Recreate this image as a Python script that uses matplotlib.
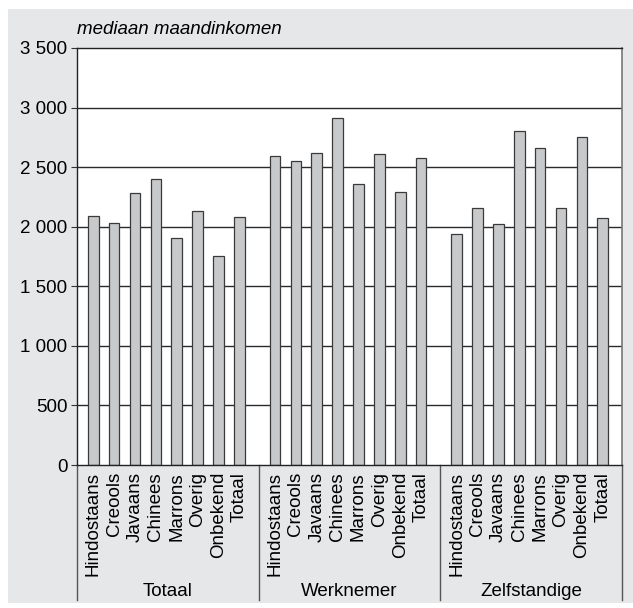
import matplotlib
matplotlib.use("Agg")
import matplotlib.pyplot as plt
from matplotlib.patches import Rectangle
from matplotlib.lines import Line2D
import matplotlib.transforms as mtransforms

plt.rcParams['font.family'] = ['Liberation Sans', 'DejaVu Sans']

categories = ["Hindostaans", "Creools", "Javaans", "Chinees", "Marrons", "Overig", "Onbekend", "Totaal"]
groups = ["Totaal", "Werknemer", "Zelfstandige"]
totaal = [2090, 2030, 2280, 2400, 1905, 2135, 1755, 2085]
werknemer = [2590, 2555, 2620, 2915, 2360, 2610, 2290, 2580]
zelfstandige = [1940, 2160, 2020, 2805, 2660, 2160, 2755, 2070]
series = [totaal, werknemer, zelfstandige]
yticks = [0, 500, 1000, 1500, 2000, 2500, 3000, 3500]
ytick_labels = ["0", "500", "1 000", "1 500", "2 000", "2 500", "3 000", "3 500"]
title = "mediaan maandinkomen"

W, H = 633, 608
fig = plt.figure(figsize=(W / 100, H / 100), dpi=100)
fig.patch.set_facecolor("white")
bg = "#e6e7e8"
fig.add_artist(Rectangle((8 / W, 1 - 603 / H), (633 - 8) / W, (603 - 9) / H,
                         transform=fig.transFigure, facecolor=bg, edgecolor="none", zorder=0))

left, right, top, bottom = 77, 622, 48, 465
ax = fig.add_axes([left / W, 1 - bottom / H, (right - left) / W, (bottom - top) / H])
ax.set_facecolor("white")

fs = 13.5
gw = 8.7
off = 0.78
xs, hs, labels = [], [], []
for g, vals in enumerate(series):
    for i, v in enumerate(vals):
        xs.append(g * gw + off + i)
        hs.append(v)
        labels.append(categories[i])

ax.set_axisbelow(True)
for y in yticks[1:-1]:
    ax.axhline(y, color="#2a2a2a", lw=1.0, zorder=1)
ax.bar(xs, hs, width=0.51, color="#c8c9cb", edgecolor="#3a3a3a", linewidth=0.9, zorder=2)

ax.set_xlim(0, 3 * gw)
ax.set_ylim(0, 3500)
ax.set_yticks(yticks)
ax.set_yticklabels(ytick_labels, fontsize=fs)
ax.tick_params(axis="y", length=4, width=0.8, pad=3, color="#333333")
ax.set_xticks(xs)
ax.set_xticklabels(labels, rotation=90, fontsize=fs, va="top", ha="center")
ax.tick_params(axis="x", length=0, pad=5)

for s in ["top", "left", "bottom"]:
    ax.spines[s].set_color("#222222")
    ax.spines[s].set_linewidth(1.0)
ax.spines["right"].set_color("#777777")
ax.spines["right"].set_linewidth(1.2)

trans = mtransforms.blended_transform_factory(ax.transData, ax.transAxes)
ybot = -(600 - bottom) / (bottom - top)
for g in range(4):
    ax.add_line(Line2D([g * gw, g * gw], [0, ybot], transform=trans, color="#555555",
                       lw=1.0, clip_on=False))
ylab = -(592 - bottom) / (bottom - top)
for g, name in enumerate(groups):
    ax.text(g * gw + gw / 2, ylab, name, transform=trans, ha="center", va="center", fontsize=fs)

ax.text(0, 1 + (top - 34.5) / (bottom - top), title, transform=ax.transAxes,
        ha="left", va="baseline", fontsize=fs, style="italic")

fig.savefig("out.png", dpi=100, facecolor=fig.get_facecolor())
